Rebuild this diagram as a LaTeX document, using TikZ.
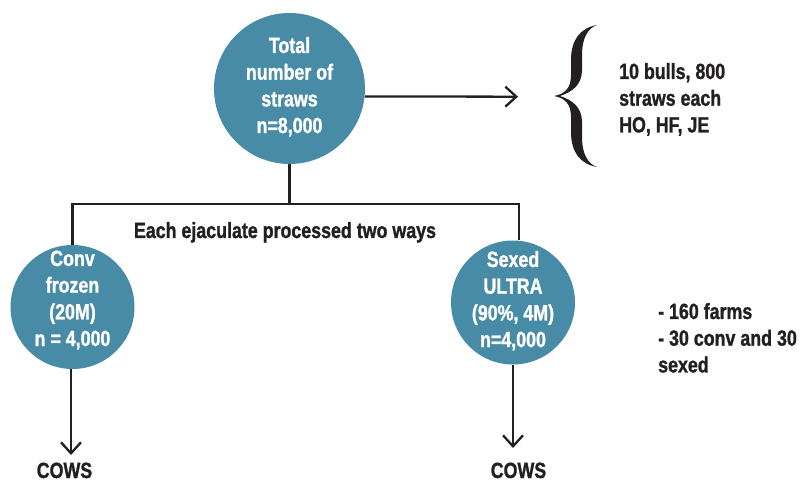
\documentclass[tikz,border=0pt]{standalone}
\usepackage{fontspec}
\newfontfamily\condfont{Liberation Sans}[FakeStretch=0.81,FakeBold=1.2]
\usetikzlibrary{arrows.meta}
\definecolor{teal}{RGB}{72,139,166}
\definecolor{ink}{RGB}{35,31,32}
\tikzset{
  circ/.style={circle, fill=teal, draw=none, inner sep=0pt},
  ctext/.style={text=white, font={\condfont\bfseries\fontsize{22}{26.7}\selectfont}, inner sep=0pt},
  dtext/.style={text=ink, font={\condfont\bfseries\fontsize{22}{26.7}\selectfont}, inner sep=0pt},
  conn/.style={draw=ink, line width=2.3pt},
  arr/.style={conn, -{Straight Barb[length=11pt,width=20pt]}}
}
\begin{document}
\begin{tikzpicture}[x=1pt,y=-1pt]
\useasboundingbox (0,0) rectangle (801,481);
% circles
\node[circ, minimum size=151pt,
  label={[ctext,yshift=0.8pt]center:{\begin{tabular}{@{}c@{}}Total\\number of\\straws\\n=8,000\end{tabular}}}] (total) at (289.5,88.5) {};
\node[circ, minimum size=124pt,
  label={[ctext,yshift=6.3pt]center:{\begin{tabular}{@{}c@{}}Conv\\frozen\\(20M)\\n = 4,000\end{tabular}}}] (conv) at (72.5,307) {};
\node[circ, minimum size=124pt,
  label={[ctext,yshift=0.8pt]center:{\begin{tabular}{@{}c@{}}Sexed\\ULTRA\\(90\%, 4M)\\n=4,000\end{tabular}}}] (sexed) at (513,302.5) {};
% text
\node[dtext, anchor=base] (ways) at (285,238) {Each ejaculate processed two ways};
\node[dtext, anchor=base] (cowsL) at (64.5,478) {COWS};
\node[dtext, anchor=base] (cowsR) at (518.5,478) {COWS};
\node[dtext, anchor=base west] (bulls) at (619,79) {\begin{tabular}[t]{@{}l@{}}10 bulls, 800\\straws each\\HO, HF, JE\end{tabular}};
\node[dtext, anchor=base west] (farms) at (658,319) {\begin{tabular}[t]{@{}l@{}}- 160 farms\\- 30 conv and 30\\sexed\end{tabular}};
% coordinates
\coordinate (jl) at (73,204);
\coordinate (jr) at (519,204);
\coordinate (hend) at (518,96.7);
\coordinate (lend) at (71,455);
\coordinate (rend) at (513,448);
% connectors
\draw[conn] (total.south) -- (total.south |- jl);
\draw[conn] (conv.north) -- (conv.north |- jl) -- (jr) -- (jr |- sexed.north);
\draw[arr] (total.-6) -- (hend);
\draw[arr] (conv.south -| lend) -- (lend);
\draw[arr] (sexed.south) -- (rend);
% brace
\fill[ink] (597,25) .. controls (580,28) and (571,40) .. (571,60) -- (571,75)
  .. controls (571,88) and (565,94) .. (554,96)
  .. controls (565,98) and (571,104) .. (571,117) -- (571,132)
  .. controls (571,152) and (580,164) .. (597,167)
  .. controls (588,164) and (582,154) .. (582,137) -- (582,122)
  .. controls (582,107) and (572,100) .. (560,96)
  .. controls (572,92) and (582,85) .. (582,70) -- (582,55)
  .. controls (582,38) and (588,28) .. (597,25) -- cycle;
\end{tikzpicture}
\end{document}
